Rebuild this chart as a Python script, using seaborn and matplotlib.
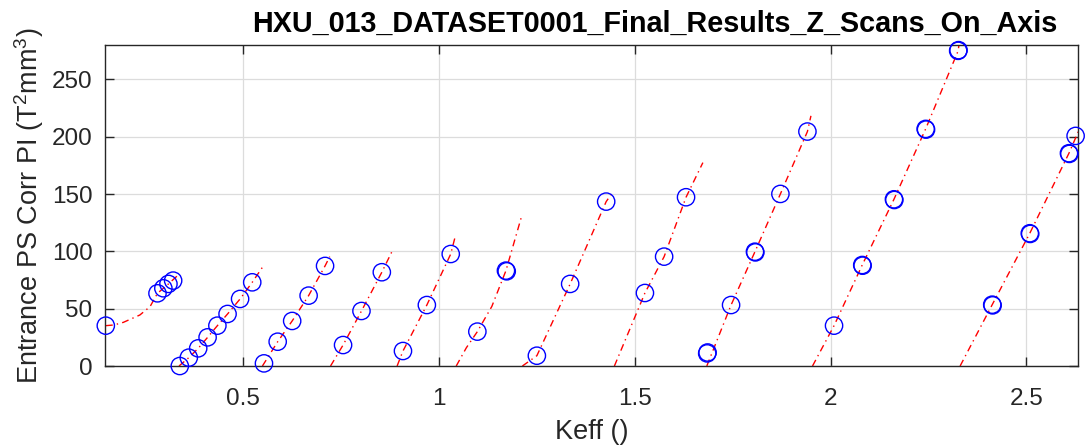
import numpy as np
import pandas as pd
import matplotlib
matplotlib.use("Agg")
import matplotlib.pyplot as plt
import seaborn as sns

# Measured points for each Z scan: Keff () and Entrance PS Corr PI (T^2 mm^3)
scan_keff = [
    [0.149, 0.281, 0.296, 0.309, 0.321],
    [0.338, 0.361, 0.385, 0.409, 0.434, 0.460, 0.492, 0.523],
    [0.553, 0.588, 0.625, 0.667, 0.709],
    [0.755, 0.802, 0.854],
    [0.908, 0.969, 1.030],
    [1.098, 1.171, 1.173],
    [1.250, 1.335, 1.427],
    [1.526, 1.575, 1.631],
    [1.685, 1.686, 1.746, 1.807, 1.808, 1.872, 1.941],
    [2.009, 2.081, 2.082, 2.162, 2.163, 2.243, 2.244, 2.326, 2.327],
    [2.413, 2.414, 2.509, 2.510, 2.609, 2.610, 2.626],
]
scan_pi = [
    [35.2, 63.4, 67.8, 71.6, 74.5],
    [0.0, 7.3, 15.4, 25.0, 35.2, 45.4, 58.5, 73.0],
    [2.3, 21.2, 39.3, 61.4, 87.3],
    [18.3, 48.0, 81.8],
    [13.1, 53.2, 97.7],
    [30.0, 83.2, 82.6],
    [9.0, 71.6, 143.4],
    [63.7, 95.4, 147.2],
    [11.0, 11.8, 53.2, 99.7, 99.1, 150.1, 204.5],
    [35.2, 88.1, 87.5, 145.4, 144.8, 206.8, 206.2, 274.9, 275.5],
    [53.5, 52.9, 115.8, 115.2, 185.6, 185.0, 200.7],
]

# Fitted trend through each scan
fit_keff = [
    [0.149, 0.170, 0.194, 0.236, 0.262, 0.281, 0.309, 0.334],
    [0.336, 0.361, 0.385, 0.409, 0.434, 0.460, 0.492, 0.523, 0.549],
    [0.549, 0.588, 0.625, 0.667, 0.709, 0.721],
    [0.723, 0.755, 0.802, 0.854, 0.881],
    [0.893, 0.908, 0.969, 1.030, 1.042],
    [1.044, 1.070, 1.098, 1.135, 1.171, 1.210],
    [1.213, 1.250, 1.335, 1.427, 1.446],
    [1.448, 1.526, 1.575, 1.631, 1.674],
    [1.684, 1.746, 1.807, 1.872, 1.941, 1.950],
    [1.954, 2.009, 2.081, 2.162, 2.243, 2.326, 2.332],
    [2.331, 2.413, 2.509, 2.609, 2.640],
]
fit_pi = [
    [35.2, 35.8, 38.1, 44.5, 51.8, 63.4, 71.6, 79.4],
    [0.0, 7.3, 15.4, 25.0, 35.2, 45.4, 58.5, 73.0, 86.1],
    [0.0, 21.2, 39.3, 61.4, 87.3, 95.4],
    [0.0, 18.3, 48.0, 81.8, 100.6],
    [0.0, 13.1, 53.2, 97.7, 113.7],
    [0.0, 16.0, 30.0, 52.0, 83.2, 129.4],
    [0.0, 9.0, 71.6, 143.4, 152.7],
    [0.0, 63.7, 95.4, 147.2, 177.4],
    [0.0, 53.2, 99.7, 150.1, 204.5, 218.2],
    [0.0, 35.2, 88.1, 145.4, 206.8, 274.9, 290.0],
    [0.0, 53.5, 115.8, 185.6, 210.0],
]

x_ticks = [0.5, 1.0, 1.5, 2.0, 2.5]
x_tick_labels = ["0.5", "1", "1.5", "2", "2.5"]
y_ticks = [0, 50, 100, 150, 200, 250]

pts = pd.DataFrame(
    [(i, k, p) for i, (ks, ps) in enumerate(zip(scan_keff, scan_pi)) for k, p in zip(ks, ps)],
    columns=["scan", "keff", "pi"],
)
fit = pd.DataFrame(
    [(i, k, p) for i, (ks, ps) in enumerate(zip(fit_keff, fit_pi)) for k, p in zip(ks, ps)],
    columns=["scan", "keff", "pi"],
)

sns.set_theme(style="white")
plt.rcParams["font.family"] = ["Liberation Sans", "DejaVu Sans"]
plt.rcParams["mathtext.fontset"] = "custom"
plt.rcParams["mathtext.rm"] = "Liberation Sans"
plt.rcParams["mathtext.it"] = "Liberation Sans"

fig = plt.figure(figsize=(10.86, 4.48), dpi=100)
ax = fig.add_axes([0.0967, 0.183, 0.8959, 0.7166])

for i in range(len(fit_keff)):
    sub = fit[fit["scan"] == i]
    sns.lineplot(data=sub, x="keff", y="pi", sort=False, estimator=None,
                 color="red", linewidth=1.0, dashes=False, ax=ax, zorder=2)
for line in ax.lines:
    line.set_linestyle((0, (5, 3, 1, 3)))

sns.scatterplot(data=pts, x="keff", y="pi", marker="o", s=155,
                facecolors="none", edgecolors="blue", linewidth=1.0,
                ax=ax, zorder=3, clip_on=False, legend=False)

ax.set_xlim(0.147, 2.632)
ax.set_ylim(0, 280)
ax.set_xticks(x_ticks)
ax.set_xticklabels(x_tick_labels)
ax.set_yticks(y_ticks)
ax.grid(True, color="#dcdcdc", linewidth=0.9)
ax.set_axisbelow(True)
for s in ax.spines.values():
    s.set_visible(True)
    s.set_color("#262626")
    s.set_linewidth(1.0)
ax.tick_params(direction="in", length=6.5, width=1.0, colors="#262626",
               labelsize=17.5, top=True, right=True, bottom=True, left=True,
               labelcolor="#262626")
ax.tick_params(axis="x", pad=15.5)
ax.tick_params(axis="y", pad=9)

ax.set_xlabel("Keff ()", fontsize=19.5, color="#262626", labelpad=6.5)
ax.set_ylabel(r"Entrance PS Corr PI (T$^2$mm$^3$)", fontsize=19.5, color="#262626", labelpad=4.5)
ax.set_title("HXU_013_DATASET0001_Final_Results_Z_Scans_On_Axis",
             fontsize=20.7, fontweight="bold", color="black", pad=9.5, x=0.565)

fig.savefig("out.png", dpi=100)
